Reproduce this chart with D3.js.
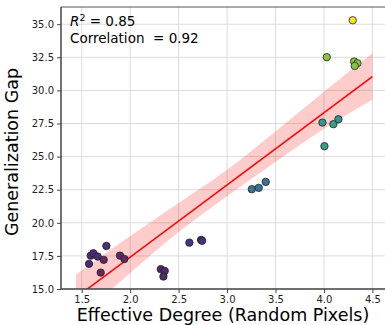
<!DOCTYPE html>
<html lang="en">
<head>
<meta charset="utf-8">
<title>Generalization Gap vs Effective Degree</title>
<script src="https://cdn.jsdelivr.net/npm/d3@7"></script>
<style>
  body { margin: 0; background: #fff; }
  text { font-family: "DejaVu Sans", sans-serif; white-space: pre; }
</style>
</head>
<body>
<script>
// effective degree (x), generalization gap (y), colour value (c)
var degree = [1.575, 1.593, 1.620, 1.665, 1.696, 1.727, 1.754, 1.895, 1.940,
              2.316, 2.357, 2.343, 2.611, 2.732, 2.742,
              3.255, 3.327, 3.399,
              3.984, 4.005, 4.097, 4.149,
              4.029, 4.311, 4.345, 4.318, 4.297];
var gap = [16.90, 17.52, 17.70, 17.45, 16.24, 17.20, 18.25, 17.52, 17.27,
           16.50, 16.37, 15.94, 18.50, 18.71, 18.64,
           22.54, 22.64, 23.09,
           27.57, 25.79, 27.45, 27.82,
           32.51, 32.18, 32.05, 31.85, 35.30];
var colourVal = [0.12, 0.12, 0.12, 0.12, 0.0, 0.02, 0.14, 0.02, 0.02,
                 0.08, 0.08, 0.08, 0.16, 0.15, 0.15,
                 0.40, 0.40, 0.40,
                 0.55, 0.60, 0.60, 0.56,
                 0.80, 0.80, 0.80, 0.80, 1.0];

// fitted regression line end points and its confidence band
var fitX = [1.44, 4.5];
var fitY = [14.35, 31.04];
var bandX = [1.44, 2.0, 2.5, 3.0, 3.5, 4.0, 4.5];
var bandLo = [12.6, 16.2, 19.3, 22.0, 24.6, 27.1, 29.3];
var bandHi = [16.1, 19.0, 21.5, 24.0, 26.9, 29.9, 32.8];

var xTicks = [1.5, 2.0, 2.5, 3.0, 3.5, 4.0, 4.5];
var yTicks = [15.0, 17.5, 20.0, 22.5, 25.0, 27.5, 30.0, 32.5, 35.0];
var r2 = 0.85, corr = 0.92;

var width = 385, height = 325;
var m = { left: 61, top: 7, right: 385, bottom: 289 };

var svg = d3.select("body").append("svg")
    .attr("width", width)
    .attr("height", height);

var x = d3.scaleLinear().domain([1.286, 4.63]).range([m.left, m.right]);
var y = d3.scaleLinear().domain([15, 36.3]).range([m.bottom, m.top]);
var colour = d3.scaleLinear()
    .domain([0, 0.12, 0.4, 0.58, 0.8, 1])
    .range(["#66275a", "#472c78", "#3c7198", "#33998a", "#88c440", "#f6e526"]);

svg.append("defs").append("clipPath").attr("id", "plot")
  .append("rect")
    .attr("x", m.left).attr("y", m.top)
    .attr("width", m.right - m.left).attr("height", m.bottom - m.top);

// grid
svg.append("g").selectAll("line").data(xTicks).enter().append("line")
    .attr("x1", function(d) { return x(d); })
    .attr("x2", function(d) { return x(d); })
    .attr("y1", m.top).attr("y2", m.bottom)
    .attr("stroke", "#dcdcdc").attr("stroke-width", 1);
svg.append("g").selectAll("line").data(yTicks).enter().append("line")
    .attr("x1", m.left).attr("x2", m.right)
    .attr("y1", function(d) { return y(d); })
    .attr("y2", function(d) { return y(d); })
    .attr("stroke", "#dcdcdc").attr("stroke-width", 1);

// regression band + line
var band = d3.area()
    .x(function(d, i) { return x(bandX[i]); })
    .y0(function(d, i) { return y(bandLo[i]); })
    .y1(function(d, i) { return y(bandHi[i]); })
    .curve(d3.curveMonotoneX);
var fitG = svg.append("g").attr("clip-path", "url(#plot)");
fitG.append("path")
    .attr("d", band(bandX))
    .attr("fill", "#ff0000").attr("fill-opacity", 0.2);
fitG.append("line")
    .attr("x1", x(fitX[0])).attr("y1", y(fitY[0]))
    .attr("x2", x(fitX[1])).attr("y2", y(fitY[1]))
    .attr("stroke", "#ff0000").attr("stroke-width", 1.5);

// points
svg.append("g").selectAll("circle")
    .data(degree.map(function(d, i) { return { x: d, y: gap[i], c: colourVal[i] }; }))
    .enter().append("circle")
    .attr("cx", function(d) { return x(d.x); })
    .attr("cy", function(d) { return y(d.y); })
    .attr("r", 3.7)
    .attr("fill", function(d) { return colour(d.c); })
    .attr("stroke", "#222").attr("stroke-width", 0.8);

// axes
var xAxis = d3.axisBottom(x).tickValues(xTicks).tickFormat(d3.format(".1f")).tickSize(4).tickPadding(3);
var yAxis = d3.axisLeft(y).tickValues(yTicks).tickFormat(d3.format(".1f")).tickSize(4).tickPadding(3);
var gx = svg.append("g").attr("transform", "translate(0," + m.bottom + ")").call(xAxis);
var gy = svg.append("g").attr("transform", "translate(" + m.left + ",0)").call(yAxis);
[gx, gy].forEach(function(g) {
  g.select(".domain").remove();
  g.selectAll(".tick line").attr("stroke", "#444");
  g.selectAll(".tick text").attr("fill", "#222").style("font-size", "10px");
});

// spines
svg.append("line").attr("x1", m.left).attr("x2", m.right).attr("y1", m.top).attr("y2", m.top)
    .attr("stroke", "#555").attr("stroke-width", 1);
svg.append("line").attr("x1", m.left).attr("x2", m.left).attr("y1", m.top).attr("y2", m.bottom)
    .attr("stroke", "#444").attr("stroke-width", 1.5);
svg.append("line").attr("x1", m.left).attr("x2", m.right).attr("y1", m.bottom).attr("y2", m.bottom)
    .attr("stroke", "#444").attr("stroke-width", 1.5);

// axis labels
svg.append("text")
    .attr("x", 223).attr("y", 321)
    .attr("text-anchor", "middle")
    .style("font-size", "17.5px")
    .text("Effective Degree (Random Pixels)");
svg.append("text")
    .attr("transform", "translate(18,152) rotate(-90)")
    .attr("text-anchor", "middle")
    .style("font-size", "17.5px")
    .text("Generalization Gap");

// annotation
var ann = svg.append("text").attr("x", 70).attr("y", 26).style("font-size", "13.5px");
ann.append("tspan").style("font-style", "italic").text("R");
ann.append("tspan").attr("dy", -5).style("font-size", "9.5px").text("2");
ann.append("tspan").attr("dy", 5).text(" = " + r2.toFixed(2));
svg.append("text").attr("x", 70).attr("y", 43).style("font-size", "13.5px")
    .text("Correlation  = " + corr.toFixed(2));
</script>
</body>
</html>
